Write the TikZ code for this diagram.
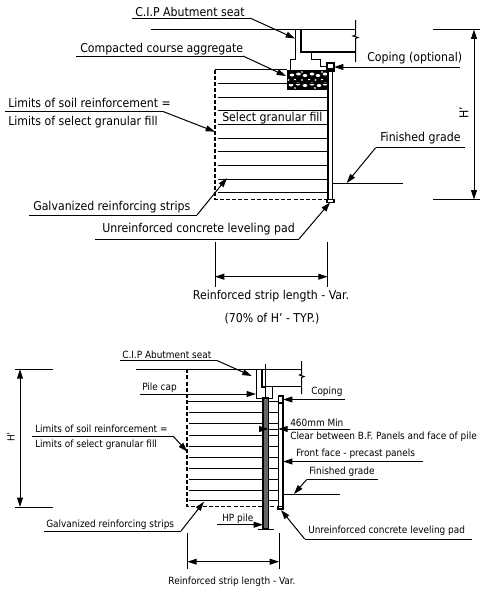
\documentclass[tikz,border=0pt]{standalone}
\usepackage{fontspec}
\setmainfont{DejaVu Sans Condensed}
\usetikzlibrary{arrows.meta}
\tikzset{
  x=0.75pt,y=-0.75pt,
  ln/.style={line width=0.75pt,black},
  heavy/.style={line width=1.5pt,black},
  dsh/.style={line width=0.8pt,black,dash pattern=on 3pt off 1.6pt},
  lead/.style={line width=0.75pt,black,-{Triangle[length=7pt,width=4.4pt]}},
  dim/.style={line width=0.75pt,black,{Triangle[length=7pt,width=4.4pt]}-{Triangle[length=7pt,width=4.4pt]}},
  big/.style={font=\fontsize{9.15pt}{10pt}\selectfont,inner sep=0pt,anchor=base west},
  small/.style={font=\fontsize{7.45pt}{8pt}\selectfont,inner sep=0pt,anchor=base west},
}
\begin{document}
\begin{tikzpicture}
\useasboundingbox (0,0) rectangle (480,590);
\fill[white] (0,0) rectangle (480,590);
% ---- upper section: structure
\draw[ln] (151,29.5) -- (356,29.5);
\draw[ln] (355.5,20) -- (355.5,35) -- (353,36) -- (358,37.5) -- (355.5,38.5) -- (355.5,62);
\draw[heavy] (300.5,29.5) -- (300.5,52) -- (355.5,52);
\draw[ln] (295,29.5) -- (295,59) -- (290,59) -- (290,69.5);
\draw[ln] (311,52) -- (311,59) -- (320.5,59) -- (320.5,66) -- (327,66);
\draw[ln] (215,69.5) -- (287,69.5);
\draw[dsh] (215,69.5) -- (215,199.5) -- (328,199.5);
\fill[black] (286.5,69.5) rectangle (328,90);
\foreach \px/\py in {292/75,298.5/74,305/75.5,312/74,318/75.5,325/74,291/85,298/84,305/85.5,312/84,319/85.5,325/84}
  \fill[white] (\px,\py) ellipse (2.4 and 1.5);
\foreach \px/\py in {288.5/80,295/79.5,302/80,309/79.5,315.5/80,322/79.5,295/88,302/72,315/88,322/72}
  \fill[white] (\px,\py) ellipse (1.2 and 0.8);
\foreach \sy in {83.3,97,110.7,124.3,138,151.7,165.3,179,192.7}
  \draw[ln] (218,\sy) -- (328,\sy);
\draw[line width=0.9pt,fill=white] (328,69) rectangle (332.5,199.5);
\draw[line width=0.9pt] (327,63) rectangle (334,71);
\draw[line width=0.9pt,fill=white] (327,199.5) rectangle (334,202.5);
\draw[ln] (332.5,183) -- (403,183);
% ---- upper section: dimensions
\draw[ln] (433,29.5) -- (480,29.5);
\draw[ln] (433,199.5) -- (480,199.5);
\draw[dim] (474,29.5) -- (474,199.5);
\node[big,rotate=90,anchor=center] (hu) at (464,113) {H'};
\draw[ln] (215,242) -- (215,287);
\draw[ln] (327.7,242) -- (327.7,287);
\draw[dim] (215,276.7) -- (327.7,276.7);
% ---- upper section: labels
\node[big] (a1) at (135,16) {C.I.P Abutment seat};
\draw[ln] (132,18) -- (250,18); \draw[lead] (250,18) -- (295,38.5);
\node[big] (a2) at (80,52.5) {Compacted course aggregate};
\draw[ln] (76,56) -- (243,56); \draw[lead] (243,56) -- (286,76);
\node[big] (a3) at (367,61) {Coping (optional)};
\draw[lead] (460,67) -- (334,67);
\node[big] (a4) at (8,107) {Limits of soil reinforcement =};
\draw[ln] (5,111.5) -- (163,111.5); \draw[lead] (163,111.5) -- (215,131.7);
\node[big] (a5) at (8,125.5) {Limits of select granular fill};
\node[big] (a6) at (222,121) {Select granular fill};
\node[big] (a7) at (380,141.5) {Finished grade};
\draw[ln] (375.7,147.7) -- (465,147.7); \draw[lead] (375.7,147.7) -- (346.7,183);
\node[big] (a8) at (33,210.5) {Galvanized reinforcing strips};
\draw[ln] (29,215) -- (197,215); \draw[lead] (197,215) -- (227,178);
\node[big] (a9) at (102,232.5) {Unreinforced concrete leveling pad};
\draw[ln] (95,239) -- (299,239); \draw[lead] (299,239) -- (330,202.5);
\node[big,anchor=base] (a10) at (271,299.5) {Reinforced strip length - Var.};
\node[big,anchor=base] (a11) at (272,322.5) {(70\% of H' - TYP.)};
% ---- lower section: structure
\draw[ln] (135.5,369.3) -- (301.7,369.3);
\draw[ln] (301.7,361) -- (301.7,374) -- (299.5,375) -- (304,376.5) -- (301.7,377.5) -- (301.7,394);
\draw[heavy] (262,369.3) -- (262,386.7) -- (266,386.7);
\draw[ln] (266,386.7) -- (301.7,386.7);
\draw[ln] (256.5,369.3) -- (256.5,398.3) -- (272.3,398.3) -- (272.3,386.7);
\draw[ln] (265.7,364) -- (265.7,398);
\draw[dsh] (187,369.3) -- (187,506.7) -- (278,506.7);
\foreach \sy/\sx in {401.7/187,412.7/189,423.7/189,435/189,446/189,457/189,468/189,479/189,490/189,500.3/189}
  \draw[ln] (\sx,\sy) -- (278,\sy);
\draw[line width=0.9pt,fill=black!60] (263,398) rectangle (268.5,529);
\draw[ln] (258,529) -- (274,529);
\draw[line width=0.9pt,fill=white] (278.3,396) rectangle (283,506.7);
\draw[line width=0.9pt] (278.3,396) rectangle (283.3,403);
\draw[line width=0.9pt,fill=white] (278,506.7) rectangle (283,509);
\draw[ln] (283,494) -- (340,494);
% ---- lower section: dimensions
\draw[ln] (15,369.3) -- (53,369.3);
\draw[ln] (15,507) -- (53,507);
\draw[dim] (20,369.3) -- (20,507);
\node[small,rotate=90,anchor=center] (hl) at (11,437) {H'};
\draw[ln] (187.3,533) -- (187.3,569);
\draw[ln] (279,533) -- (279,569);
\draw[dim] (187.3,561.7) -- (279,561.7);
% ---- lower section: labels
\node[small] (b1) at (122,358.5) {C.I.P Abutment seat};
\draw[ln] (120,360.5) -- (217,360.5); \draw[lead] (217,360.5) -- (251.7,376);
\node[small] (b2) at (142,390) {Pile cap};
\draw[lead] (140,394) -- (256,394);
\node[small] (b3) at (311,394) {Coping};
\draw[lead] (345,399.5) -- (283,399.5);
\node[small] (b4) at (290,426) {460mm Min};
\draw[lead] (350,429) -- (278.3,429);
\draw[ln] (268,429) -- (278.3,429);
\draw[lead] (259,429) -- (268.5,429);
\node[small] (b5) at (290,439.5) {Clear between B.F. Panels and face of pile};
\node[small] (b6) at (296,456.5) {Front face - precast panels};
\draw[lead] (423,461.5) -- (283,461.5);
\node[small] (b7) at (309,474.5) {Finished grade};
\draw[ln] (306.7,479.5) -- (378,479.5); \draw[lead] (306.7,479.5) -- (294,494);
\node[small] (b8) at (35,432) {Limits of soil reinforcement =};
\draw[ln] (32,436) -- (173,436); \draw[lead] (173,436) -- (187.3,451.7);
\node[small] (b9) at (35,447) {Limits of select granular fill};
\node[small] (b10) at (222,521) {HP pile};
\draw[lead] (217,524.7) -- (263,524.7);
\node[small] (b11) at (46,527) {Galvanized reinforcing strips};
\draw[ln] (44,531) -- (181,531); \draw[lead] (181,531) -- (204,501.7);
\node[small] (b12) at (308,533) {Unreinforced concrete leveling pad};
\draw[ln] (304.7,539) -- (472,539); \draw[lead] (304.7,539) -- (281,510);
\node[small,anchor=base] (b13) at (232,584) {Reinforced strip length - Var.};
\end{tikzpicture}
\end{document}
